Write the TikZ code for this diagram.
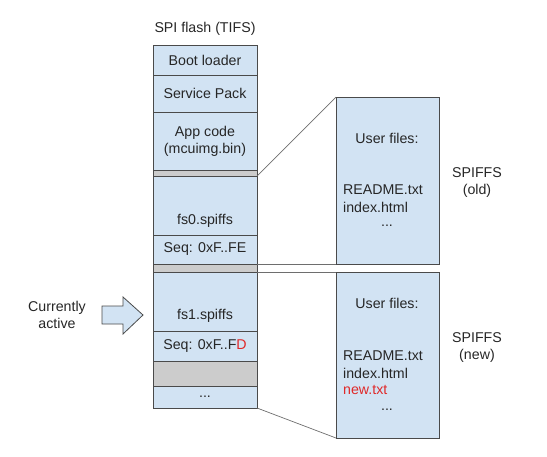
\documentclass[tikz,border=0pt]{standalone}
\usepackage{fontspec}
\setmainfont{Liberation Sans}
\definecolor{boxblue}{HTML}{D2E3F3}
\definecolor{boxgray}{HTML}{CCCCCC}
\definecolor{edge}{HTML}{4A4A4A}
\definecolor{redtxt}{HTML}{E02828}
\begin{document}
\begin{tikzpicture}[x=1pt,y=-1pt,
  every node/.style={font=\fontsize{14.2}{17}\selectfont, text=black!85},
  seg/.style={draw=edge, line width=0.8pt, fill=boxblue, minimum width=104pt, inner sep=0pt, outer sep=0pt},
  gseg/.style={seg, fill=boxgray},
  fsbox/.style={draw=edge, line width=0.8pt, fill=boxblue, minimum width=103pt, inner sep=0pt, outer sep=0pt},
  txt/.style={inner sep=0pt, align=center},
  link/.style={draw=edge!80, line width=0.7pt},
  arrowshape/.style={draw=edge, line width=0.8pt, fill=boxblue, line join=miter}
]
\useasboundingbox (0,0) rectangle (547,456);

\node[txt] (title) at (205,29) {SPI flash (TIFS)};

\node[seg, minimum height=30pt] (boot) at (205,60) {Boot loader};
\node[seg, minimum height=37pt] (sp) at (205,93.5) {Service Pack};
\node[seg, minimum height=58pt, align=center] (app) at (205,141) {App code\\(mcuimg.bin)};
\node[gseg, minimum height=6pt] (g1) at (205,173) {};
\node[seg, minimum height=59pt] (fs0) at (205,205.5) {};
\node[txt] (fs0lbl) at (205,221) {fs0.spiffs};
\node[seg, minimum height=29pt] (seq0) at (205,249.5) {Seq: 0xF..FE};
\node[gseg, minimum height=8pt] (g2) at (205,268) {};
\node[seg, minimum height=59pt] (fs1) at (205,301.5) {};
\node[txt] (fs1lbl) at (205,316) {fs1.spiffs};
\node[seg, minimum height=30pt] (seq1) at (205,346) {Seq: 0xF..F\textcolor{redtxt}{D}};
\node[gseg, minimum height=25pt] (g3) at (205,373.5) {};
\node[seg, minimum height=22pt] (dots) at (205,397) {...};

\node[fsbox, minimum height=167pt] (old) at (387.5,180.5) {};
\node[fsbox, minimum height=166pt] (new) at (387.5,355) {};

\draw[link] (fs0.north east) -- (old.north west);
\draw[link] (seq0.south east) -- (old.south west);
\draw[link] (fs1.north east) -- (new.north west);
\draw[link] (dots.south east) -- (new.south west);

\node[txt] (oldhead) at (387,138) {User files:};
\node[txt, anchor=west] (oldf1) at (343,190) {README.txt};
\node[txt, anchor=west] (oldf2) at (343,207) {index.html};
\node[txt] (olddots) at (387,226) {...};

\node[txt] (newhead) at (387,303) {User files:};
\node[txt, anchor=west] (newf1) at (343,356) {README.txt};
\node[txt, anchor=west] (newf2) at (343,373) {index.html};
\node[txt, anchor=west, text=redtxt] (newf3) at (343,390) {new.txt};
\node[txt] (newdots) at (387,410) {...};

\node[txt] (oldlbl) at (477,182.5) {SPIFFS\\(old)};
\node[txt] (newlbl) at (477,347.5) {SPIFFS\\(new)};

\node[txt] (active) at (57,315) {Currently\\active};
\draw[arrowshape] (102,306) -- (123,306) -- (123,297) -- (143,315) -- (123,334) -- (123,324) -- (102,324) -- cycle;
\end{tikzpicture}
\end{document}
